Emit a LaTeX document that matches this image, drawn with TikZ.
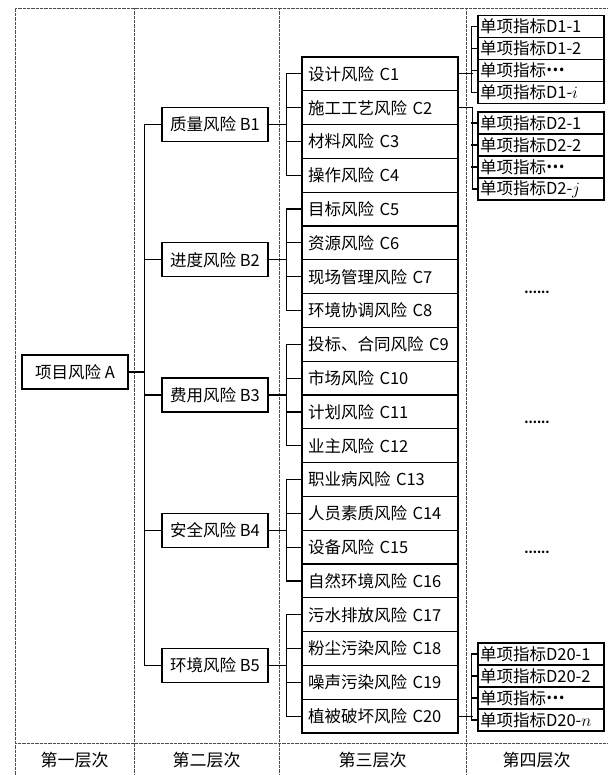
\documentclass[tikz,border=0pt]{standalone}
\usepackage{fontspec}
\setmainfont{Noto Sans CJK SC}
\newcommand{\midell}{\raisebox{0.3em}{\bfseries …}}
\begin{document}
\begin{tikzpicture}[x=1pt,y=-1pt,
  frame/.style={draw=black!70, line width=0.8pt, dash pattern=on 0.6pt off 0.7pt},
  conn/.style={draw, line width=1.2pt},
  bbox/.style={draw, line width=1.2pt, minimum width=106pt, minimum height=34pt, inner sep=0pt, font=\fontsize{16.5}{18}\selectfont},
  cbox/.style={draw, line width=1.2pt, minimum width=156pt, minimum height=33.8pt, text width=144pt, inner xsep=6pt, inner ysep=0pt, align=left, font=\fontsize{16.5}{18}\selectfont},
  dbox/.style={draw, line width=1.2pt, minimum width=126pt, minimum height=22pt, text width=122pt, inner xsep=2pt, inner ysep=0pt, align=left, font=\fontsize{16.5}{17}\selectfont},
  lab/.style={font=\fontsize{17}{19}\selectfont},
  dots/.style={font=\fontsize{12}{14}\selectfont\bfseries}
]
\useasboundingbox (0,0) rectangle (607,775);
% dotted frame
\draw[frame] (15,775) -- (15,8) -- (607,8);
\draw[frame] (134,8) -- (134,775);
\draw[frame] (279,8) -- (279,775);
\draw[frame] (466,8) -- (466,775);
\draw[frame] (15,743) -- (607,743);
% level labels
\node[lab] (L1) at (74.5,760) {第一层次};
\node[lab] (L2) at (206.5,760) {第二层次};
\node[lab] (L3) at (372.5,760) {第三层次};
\node[lab] (L4) at (536.5,760) {第四层次};
% level 1
\node[bbox] (A) at (75,372) {项目风险 A};
% level 2
\node[bbox] (B1) at (215,124.6) {质量风险 B1};
\node[bbox] (B2) at (215,259.8) {进度风险 B2};
\node[bbox] (B3) at (215,395) {费用风险 B3};
\node[bbox] (B4) at (215,530.2) {安全风险 B4};
\node[bbox] (B5) at (215,665.4) {环境风险 B5};
% level 3
\node[cbox] (C1) at (380,73.9) {设计风险 C1};
\node[cbox] (C2) at (380,107.7) {施工工艺风险 C2};
\node[cbox] (C3) at (380,141.5) {材料风险 C3};
\node[cbox] (C4) at (380,175.3) {操作风险 C4};
\node[cbox] (C5) at (380,209.1) {目标风险 C5};
\node[cbox] (C6) at (380,242.9) {资源风险 C6};
\node[cbox] (C7) at (380,276.7) {现场管理风险 C7};
\node[cbox] (C8) at (380,310.5) {环境协调风险 C8};
\node[cbox] (C9) at (380,344.3) {投标、合同风险 C9};
\node[cbox] (C10) at (380,378.1) {市场风险 C10};
\node[cbox] (C11) at (380,411.9) {计划风险 C11};
\node[cbox] (C12) at (380,445.7) {业主风险 C12};
\node[cbox] (C13) at (380,479.5) {职业病风险 C13};
\node[cbox] (C14) at (380,513.3) {人员素质风险 C14};
\node[cbox] (C15) at (380,547.1) {设备风险 C15};
\node[cbox] (C16) at (380,580.9) {自然环境风险 C16};
\node[cbox] (C17) at (380,614.7) {污水排放风险 C17};
\node[cbox] (C18) at (380,648.5) {粉尘污染风险 C18};
\node[cbox] (C19) at (380,682.3) {噪声污染风险 C19};
\node[cbox] (C20) at (380,716.1) {植被破坏风险 C20};
% level 4
\node[dbox] (D11) at (541,26.5) {单项指标D1-1};
\node[dbox] (D12) at (541,48.5) {单项指标D1-2};
\node[dbox] (D13) at (541,70.5) {单项指标\midell};
\node[dbox] (D14) at (541,92.5) {单项指标D1-$i$};
\node[dbox] (D21) at (541,123) {单项指标D2-1};
\node[dbox] (D22) at (541,145) {单项指标D2-2};
\node[dbox] (D23) at (541,167) {单项指标\midell};
\node[dbox] (D24) at (541,189) {单项指标D2-$j$};
\node[dbox] (D201) at (541,654) {单项指标D20-1};
\node[dbox] (D202) at (541,676) {单项指标D20-2};
\node[dbox] (D203) at (541,698) {单项指标\midell};
\node[dbox] (D204) at (541,720) {单项指标D20-$n$};
\node[dots] (E1) at (537,292) {......};
\node[dots] (E2) at (537,422) {......};
\node[dots] (E3) at (537,552) {......};
% A -> B
\draw[conn] (A.east) -- ([xshift=-17pt]A.east -| B1.west);
\draw[conn] (B1.west) -- ++(-17,0) |- (B5.west);
\foreach \n in {B2,B3,B4} \draw[conn] (\n.west) -- ++(-17,0);
% B -> C
\foreach \b/\f/\m/\l in {B1/C1/C2/C4,B2/C5/C6/C8,B3/C9/C10/C12,B4/C13/C14/C16,B5/C17/C18/C20}{
  \draw[conn] (\b.east) -- ([xshift=-15pt]\b.east -| \f.west);
  \draw[conn] (\f.west) -- ++(-15,0) |- (\l.west);
}
\foreach \n in {C2,C3,C6,C7,C10,C11,C14,C15,C18,C19} \draw[conn] (\n.west) -- ++(-15,0);
% C -> D
\draw[conn] (C1.east) -- ++(14,0);
\draw[conn] (D11.west) -- ++(-6,0) |- (D14.west);
\foreach \n in {D12,D13} \draw[conn] (\n.west) -- ++(-6,0);
\draw[conn] (C2.east) -- ++(14,0) |- (D24.west);
\foreach \n in {D21,D22,D23} \draw[conn] (\n.west) -- ++(-6,0);
\draw[conn] (C20.east) -- ++(14,0);
\draw[conn] (D201.west) -- ++(-6,0) |- (D204.west);
\foreach \n in {D202,D203} \draw[conn] (\n.west) -- ++(-6,0);
\end{tikzpicture}
\end{document}
